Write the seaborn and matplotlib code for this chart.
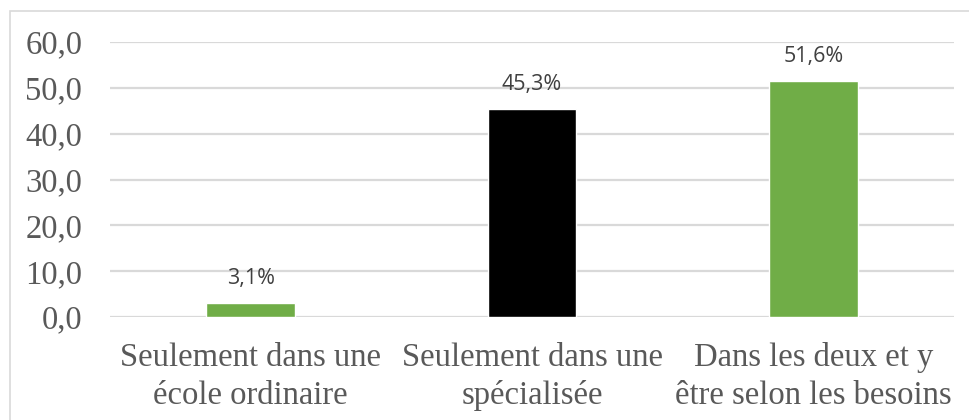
import matplotlib
matplotlib.use("Agg")
import matplotlib.pyplot as plt
from matplotlib.patches import Rectangle
import seaborn as sns
import pandas as pd

categories = [
    "Seulement dans une\nécole ordinaire",
    "Seulement dans une\nspécialisée",
    "Dans les deux et y\nêtre selon les besoins",
]
values = [3.1, 45.3, 51.6]
bar_colors = ["#70ad47", "#000000", "#70ad47"]
y_ticks = [0, 10, 20, 30, 40, 50, 60]

df = pd.DataFrame({"categorie": categories, "pourcentage": values})

sns.set_theme(style="white")
plt.rcParams["font.family"] = ["Liberation Serif", "DejaVu Serif"]

fig = plt.figure(figsize=(9.7, 4.2), dpi=100)
ax = fig.add_axes([110 / 970, 1 - 317 / 420, (954 - 110) / 970, (317 - 42) / 420])

sns.barplot(data=df, x="categorie", y="pourcentage", hue="categorie",
            palette=bar_colors, width=0.316, legend=False, ax=ax, saturation=1)

ax.set_ylim(0, 60)
ax.set_xlim(-0.5, 2.5)
ax.set_yticks(y_ticks)
ax.set_yticklabels([f"{t:.1f}".replace(".", ",") for t in y_ticks],
                   fontsize=23.5, color="#595959")
ax.set_xticks(range(len(categories)))
ax.set_xticklabels(categories, fontsize=23.5, color="#595959", linespacing=1.32)
ax.tick_params(axis="y", length=0, pad=20)
ax.tick_params(axis="x", length=0, pad=18)
ax.set_xlabel("")
ax.set_ylabel("")

for t in y_ticks:
    ax.axhline(t, color="#d9d9d9", linewidth=1.6, zorder=0)
for s in ax.spines.values():
    s.set_visible(False)

for i, v in enumerate(values):
    ax.annotate(f"{v:.1f}%".replace(".", ","), (i, v), xytext=(0, 10),
                textcoords="offset points", ha="center", va="bottom",
                fontsize=15.5, color="#404040", family=["Open Sans", "DejaVu Sans"])

fig.patches.append(Rectangle((10 / 970, -0.1), 1.2, 1 - 11 / 420 + 0.1,
                             transform=fig.transFigure, fill=False,
                             edgecolor="#d9d9d9", linewidth=1.2))

fig.savefig("out.png", dpi=100, facecolor="white")
